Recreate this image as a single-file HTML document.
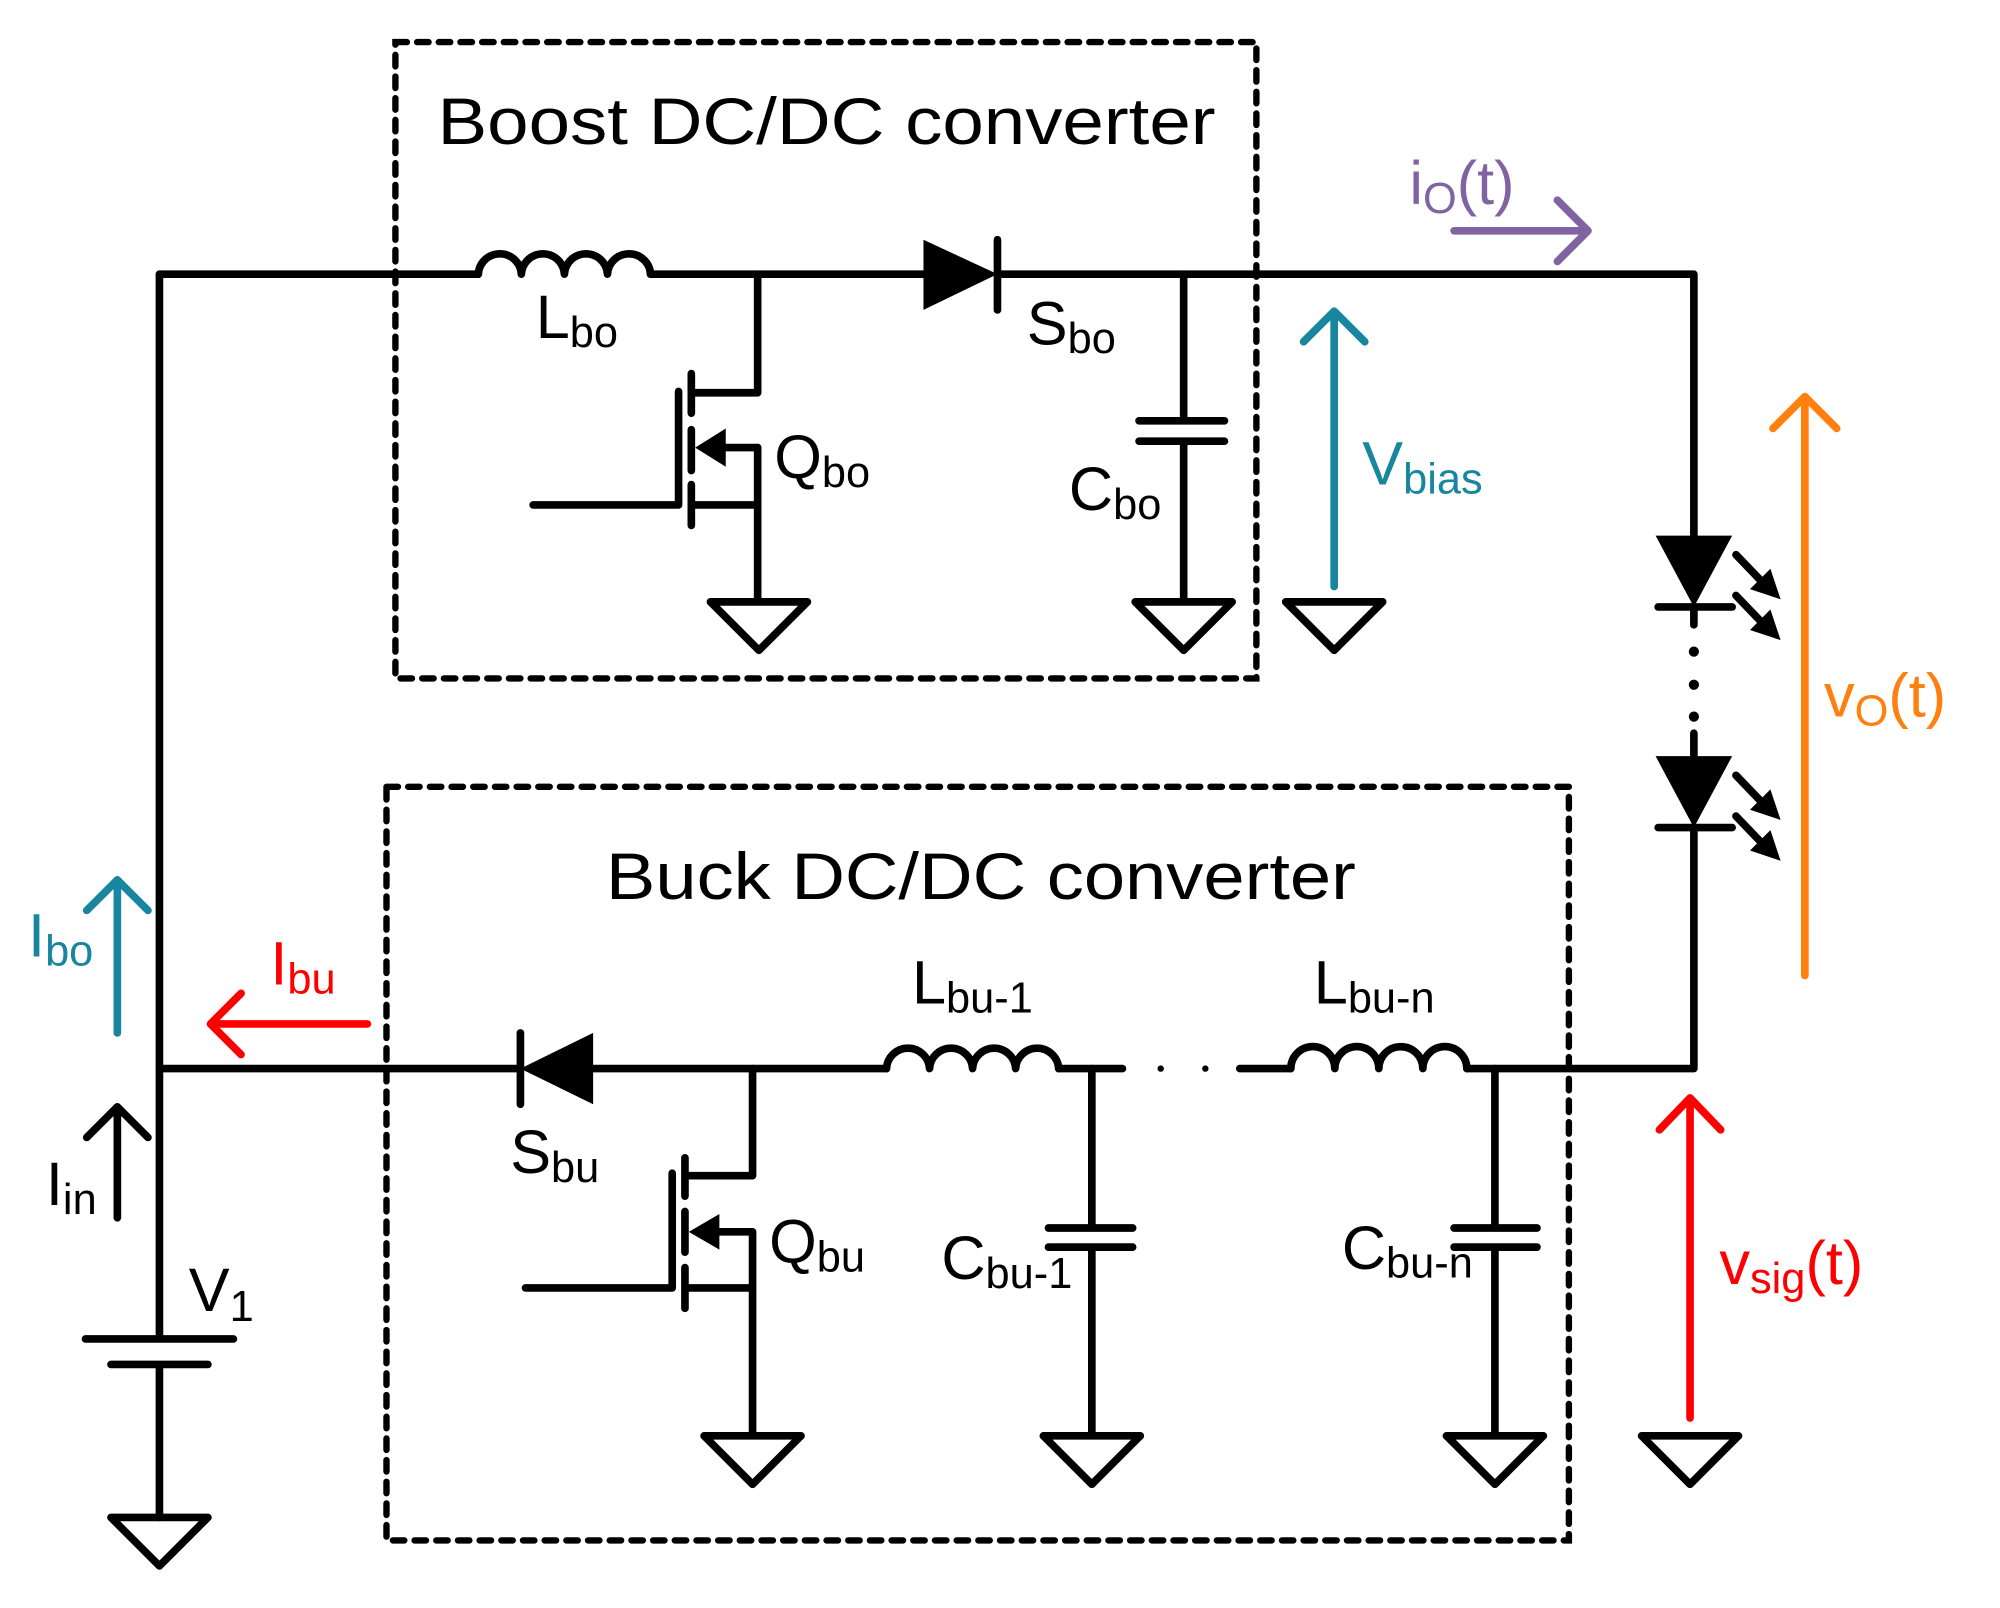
<!DOCTYPE html>
<html><head><meta charset="utf-8"><style>
html,body{margin:0;padding:0;background:#fff;}
svg{display:block;}
text{font-family:"Liberation Sans","DejaVu Sans",sans-serif;}
</style></head><body>
<svg width="2000" height="1608" viewBox="0 0 1568 1261" preserveAspectRatio="none" xmlns="http://www.w3.org/2000/svg">
<defs>
<g id="gnd"><polygon points="-38,0 38,0 0,38" fill="none" stroke="#000" stroke-width="6" stroke-linejoin="round"/></g>
</defs>
<rect x="310" y="33" width="675" height="499" fill="none" stroke="#000" stroke-width="5" stroke-dasharray="9,8" stroke-linecap="round"/>
<rect x="303" y="617" width="927" height="591" fill="none" stroke="#000" stroke-width="5" stroke-dasharray="9,8" stroke-linecap="round"/>

<g fill="none" stroke="#000" stroke-width="6" stroke-linecap="round" stroke-linejoin="round">
<path d="M125,215 H375"/>
<path d="M375,215 a16.9,16.9 0 0 1 33.75,0 a16.9,16.9 0 0 1 33.75,0 a16.9,16.9 0 0 1 33.75,0 a16.9,16.9 0 0 1 33.75,0"/>
<path d="M510,215 H724 M782,215 H1328 V420"/>
<path d="M782,188 V243"/>
<path d="M928,215 V330 M893,330 H960 M893,346 H960 M928,346 V470"/>
<path d="M125,215 V1050 M67,1050 H183 M87,1070 H163 M125,1070 V1190"/>
<path d="M594,215 V308 H542 M542,293 V324 M542,337 V369 M542,380 V412 M532,307 V396 H418 M594,351 V470 M594,396 H542"/>
<path d="M594,351 H565"/>
<path d="M1328,476 V490 M1328,575 V593 M1300,476 H1358 M1300,649 H1358 M1328,649 V838 H1150"/>
<path d="M1012,838 a17.25,17.25 0 0 1 34.5,0 a17.25,17.25 0 0 1 34.5,0 a17.25,17.25 0 0 1 34.5,0 a17.25,17.25 0 0 1 34.5,0"/>
<path d="M695,838 a16.9,16.9 0 0 1 33.75,0 a16.9,16.9 0 0 1 33.75,0 a16.9,16.9 0 0 1 33.75,0 a16.9,16.9 0 0 1 33.75,0"/>
<path d="M972,838 H1012 M830,838 H880 M695,838 H465 M408,838 H125"/>
<path d="M408,810 V866"/>
<path d="M590,838 V922 H537 M537,908 V938 M537,950 V982 M537,994 V1026 M527,920 V1010 H412 M590,966 V1125 M590,1010 H537 M590,966 H560"/>
<path d="M856,838 V963 M822,963 H888 M822,978 H888 M856,978 V1125"/>
<path d="M1172,838 V963 M1140,963 H1205 M1140,978 H1205 M1172,978 V1125"/>
<path d="M1361,435 L1385,460 M1361,467 L1385,492 M1361,608 L1385,633 M1361,640 L1385,665"/>
</g>
<g fill="#000">
<polygon points="724,188 724,243 782,215"/>
<polygon points="545,351 569,336 569,366"/>
<polygon points="540,966 564,952 564,980"/>
<polygon points="465,810 465,866 408,838"/>
<polygon points="1298,420 1358,420 1328,476"/>
<polygon points="1298,593 1358,593 1328,649"/>
<polygon points="1396,470 1372,462 1388,446"/>
<polygon points="1396,502 1372,494 1388,478"/>
<polygon points="1396,643 1372,635 1388,619"/>
<polygon points="1396,675 1372,667 1388,651"/>
<circle cx="1328" cy="511" r="4"/><circle cx="1328" cy="537" r="4"/><circle cx="1328" cy="562" r="4"/>
<circle cx="910" cy="838" r="2.5"/><circle cx="945" cy="838" r="2.5"/>
</g>
<use href="#gnd" x="595" y="472"/>
<use href="#gnd" x="928" y="472"/>
<use href="#gnd" x="1046" y="472"/>
<use href="#gnd" x="125" y="1190"/>
<use href="#gnd" x="590" y="1126"/>
<use href="#gnd" x="856" y="1126"/>
<use href="#gnd" x="1172" y="1126"/>
<use href="#gnd" x="1325" y="1126"/>

<g fill="none" stroke-width="6" stroke-linecap="round" stroke-linejoin="round">
<path d="M1046,460 V245 M1022,268 L1046,244 L1070,268" stroke="#17869e"/>
<path d="M92,810 V690 M68,714 L92,690 L116,714" stroke="#17869e"/>
<path d="M1415,765 V312 M1390,336 L1415,311 L1440,336" stroke="#ff7f0f"/>
<path d="M1325,1112 V862 M1301,886 L1325,861 L1349,886" stroke="#ff0000"/>
<path d="M1140,181 H1245 M1221,157 L1245,181 L1221,205" stroke="#8064a2"/>
<path d="M288,803 H165 M189,779 L165,803 L189,827" stroke="#ff0000"/>
<path d="M92,955 V868 M68,892 L92,868 L116,892" stroke="#000"/>
</g>

<g font-size="52" fill="#000">
<text x="343" y="113" textLength="610" lengthAdjust="spacingAndGlyphs">Boost DC/DC converter</text>
<text x="475" y="705" textLength="588" lengthAdjust="spacingAndGlyphs">Buck DC/DC converter</text>
</g>
<g font-size="48" fill="#000">
<text x="420" y="265">L<tspan font-size="34" dy="7">bo</tspan></text>
<text x="805" y="270">S<tspan font-size="34" dy="7">bo</tspan></text>
<text x="607" y="375">Q<tspan font-size="34" dy="7">bo</tspan></text>
<text x="838" y="400">C<tspan font-size="34" dy="7">bo</tspan></text>
<text x="715" y="787">L<tspan font-size="34" dy="7">bu-1</tspan></text>
<text x="1030" y="787">L<tspan font-size="34" dy="7">bu-n</tspan></text>
<text x="400" y="920">S<tspan font-size="34" dy="7">bu</tspan></text>
<text x="603" y="990">Q<tspan font-size="34" dy="7">bu</tspan></text>
<text x="738" y="1003">C<tspan font-size="34" dy="7">bu-1</tspan></text>
<text x="1052" y="995">C<tspan font-size="34" dy="7">bu-n</tspan></text>
<text x="148" y="1028">V<tspan font-size="34" dy="8">1</tspan></text>
<text x="36" y="945">I<tspan font-size="34" dy="7">in</tspan></text>
</g>
<g font-size="48">
<text x="22" y="750" fill="#17869e">I<tspan font-size="34" dy="7">bo</tspan></text>
<text x="212" y="772" fill="#ff0000">I<tspan font-size="34" dy="7">bu</tspan></text>
<text x="1068" y="380" fill="#17869e">V<tspan font-size="34" dy="7">bias</tspan></text>
<text x="1105" y="160" fill="#8064a2">i<tspan font-size="34" dy="7">O</tspan><tspan dy="-7">(t)</tspan></text>
<text x="1430" y="562" fill="#ff7f0f">v<tspan font-size="34" dy="7">O</tspan><tspan dy="-7">(t)</tspan></text>
<text x="1348" y="1007" fill="#ff0000">v<tspan font-size="34" dy="7">sig</tspan><tspan dy="-7">(t)</tspan></text>
</g>
</svg>
</body></html>
